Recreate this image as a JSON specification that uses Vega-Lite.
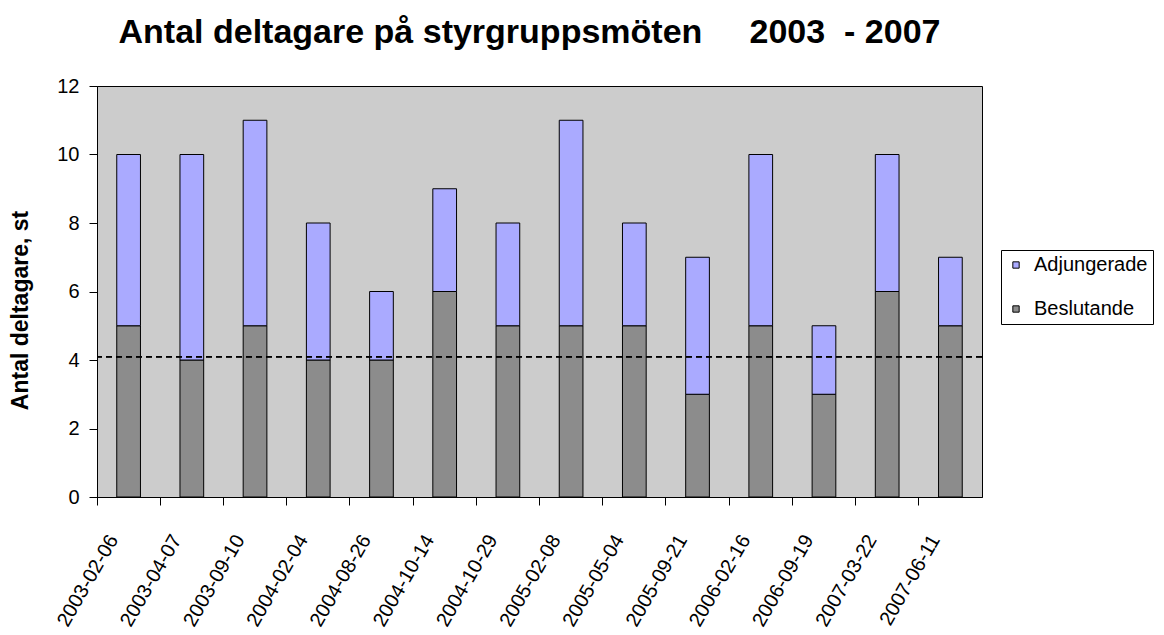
{
  "$schema": "https://vega.github.io/schema/vega-lite/v6.json",
  "width": 885,
  "height": 411,
  "autosize": "none",
  "padding": {"left": 97, "top": 86, "right": 182, "bottom": 138},
  "background": "white",
  "title": {
    "text": "Antal deltagare på styrgruppsmöten\u00a0\u00a0\u00a0\u00a0\u00a02003\u00a0\u00a0-\u00a02007",
    "fontSize": 34,
    "fontWeight": "bold",
    "font": "Liberation Sans",
    "color": "black",
    "anchor": "middle",
    "baseline": "alphabetic",
    "offset": -1,
    "dx": -10
  },
  "data": {
    "values": [
      {"datum": "2003-02-06", "typ": "Beslutande", "antal": 5},
      {"datum": "2003-02-06", "typ": "Adjungerade", "antal": 5},
      {"datum": "2003-04-07", "typ": "Beslutande", "antal": 4},
      {"datum": "2003-04-07", "typ": "Adjungerade", "antal": 6},
      {"datum": "2003-09-10", "typ": "Beslutande", "antal": 5},
      {"datum": "2003-09-10", "typ": "Adjungerade", "antal": 6},
      {"datum": "2004-02-04", "typ": "Beslutande", "antal": 4},
      {"datum": "2004-02-04", "typ": "Adjungerade", "antal": 4},
      {"datum": "2004-08-26", "typ": "Beslutande", "antal": 4},
      {"datum": "2004-08-26", "typ": "Adjungerade", "antal": 2},
      {"datum": "2004-10-14", "typ": "Beslutande", "antal": 6},
      {"datum": "2004-10-14", "typ": "Adjungerade", "antal": 3},
      {"datum": "2004-10-29", "typ": "Beslutande", "antal": 5},
      {"datum": "2004-10-29", "typ": "Adjungerade", "antal": 3},
      {"datum": "2005-02-08", "typ": "Beslutande", "antal": 5},
      {"datum": "2005-02-08", "typ": "Adjungerade", "antal": 6},
      {"datum": "2005-05-04", "typ": "Beslutande", "antal": 5},
      {"datum": "2005-05-04", "typ": "Adjungerade", "antal": 3},
      {"datum": "2005-09-21", "typ": "Beslutande", "antal": 3},
      {"datum": "2005-09-21", "typ": "Adjungerade", "antal": 4},
      {"datum": "2006-02-16", "typ": "Beslutande", "antal": 5},
      {"datum": "2006-02-16", "typ": "Adjungerade", "antal": 5},
      {"datum": "2006-09-19", "typ": "Beslutande", "antal": 3},
      {"datum": "2006-09-19", "typ": "Adjungerade", "antal": 2},
      {"datum": "2007-03-22", "typ": "Beslutande", "antal": 6},
      {"datum": "2007-03-22", "typ": "Adjungerade", "antal": 4},
      {"datum": "2007-06-11", "typ": "Beslutande", "antal": 5},
      {"datum": "2007-06-11", "typ": "Adjungerade", "antal": 2}
    ]
  },
  "layer": [
    {
      "mark": {"type": "bar", "width": {"band": 0.375}, "stroke": "black", "strokeWidth": 1},
      "encoding": {
        "x": {
          "field": "datum",
          "type": "ordinal",
          "scale": {"paddingInner": 0, "paddingOuter": 0},
          "axis": {
            "title": null,
            "labelAngle": -60,
            "labelAlign": "right",
            "labelBaseline": "middle",
            "labelFontSize": 20,
            "labelColor": "black",
            "labelOffset": -15,
            "labelPadding": 31,
            "labelOverlap": false,
            "bandPosition": 0,
            "tickSize": 8,
            "tickColor": "black",
            "domainColor": "black"
          }
        },
        "y": {
          "field": "antal",
          "type": "quantitative",
          "stack": "zero",
          "scale": {"domain": [0, 12], "nice": false},
          "axis": {
            "title": "Antal deltagare, st",
            "titleFontSize": 23,
            "titleFontWeight": "bold",
            "titleColor": "black",
            "titlePadding": 24,
            "titleY": 224,
            "values": [0, 2, 4, 6, 8, 10, 12],
            "labelFontSize": 20,
            "labelColor": "black",
            "labelPadding": 10,
            "tickSize": 8,
            "tickColor": "black",
            "domainColor": "black",
            "grid": false
          }
        },
        "color": {
          "field": "typ",
          "type": "nominal",
          "scale": {"domain": ["Adjungerade", "Beslutande"], "range": ["#AAAAFF", "#8C8C8C"]},
          "legend": {
            "title": null,
            "orient": "none",
            "legendX": 904,
            "legendY": 164,
            "symbolType": "square",
            "symbolSize": 40,
            "symbolStrokeColor": "black",
            "symbolStrokeWidth": 1,
            "labelFontSize": 20,
            "labelColor": "black",
            "labelOffset": 8,
            "labelExpr": "datum.label + '\u00a0'",
            "rowPadding": 24,
            "padding": 5,
            "strokeColor": "black",
            "fillColor": "white"
          }
        },
        "order": {"field": "typ", "sort": "descending"}
      }
    },
    {
      "mark": {"type": "rule", "color": "black", "strokeWidth": 1, "strokeDash": [6, 4]},
      "encoding": {"y": {"datum": 4.1}}
    }
  ],
  "config": {
    "font": "Liberation Sans",
    "view": {"fill": "#CCCCCC", "stroke": "black", "strokeWidth": 1}
  }
}
